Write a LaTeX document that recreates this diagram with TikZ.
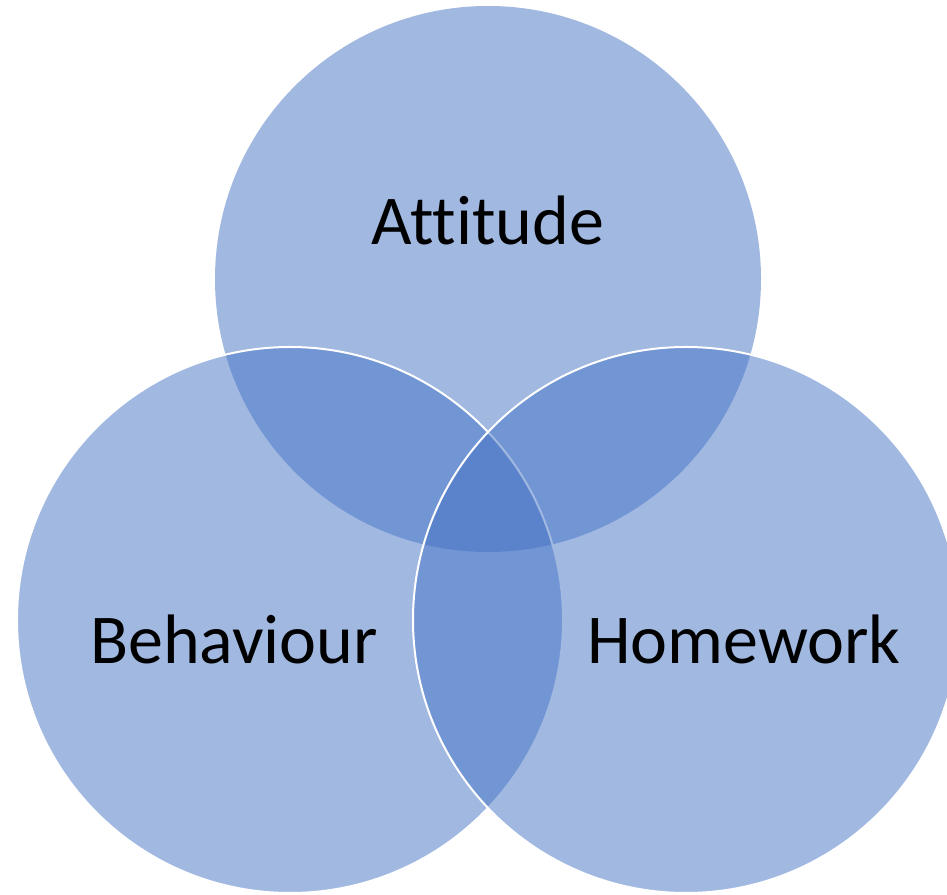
\documentclass[tikz,border=0pt]{standalone}
\usepackage{fontspec}
\setmainfont[Ligatures=NoCommon]{Carlito}
\definecolor{accent}{HTML}{4472C4}
\begin{document}
\begin{tikzpicture}[x=1pt,y=1pt,
  venn/.style={fill=accent,fill opacity=0.5},
  vennline/.style={draw=white,line width=2pt},
  lbl/.style={anchor=base,font=\fontsize{70}{84}\selectfont,text=black,inner sep=0pt}]
\useasboundingbox (0,0) rectangle (947,894);
\begin{scope}
\clip (0,0) rectangle (947,894);
\path[venn] (488,615) circle (273);
\path[venn] (290,274) circle (273);
\draw[vennline] (290,274) circle (273);
\path[venn] (686,274) circle (273);
\draw[vennline] (686,274) circle (273);
\end{scope}
\node[lbl] (att) at (488,649) {Attitude};
\node[lbl] (beh) at (234,230) {Behaviour};
\node[lbl] (hom) at (744,230) {Homework};
\end{tikzpicture}
\end{document}
